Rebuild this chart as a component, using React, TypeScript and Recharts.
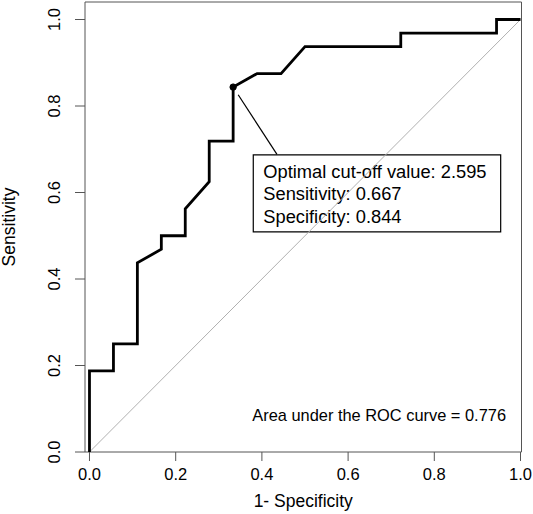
import React from 'react'
import { ComposedChart, Line, XAxis, YAxis, ReferenceLine, ReferenceArea, ReferenceDot } from 'recharts'

// ROC curve points (1 - specificity, sensitivity), 18 negatives / 32 positives
const fpr = [0, 0, 0.0556, 0.0556, 0.1111, 0.1111, 0.1667, 0.1667, 0.2222, 0.2222, 0.2778, 0.2778, 0.3333, 0.3333, 0.3889, 0.4444, 0.5, 0.7222, 0.7222, 0.9444, 0.9444, 1]
const tpr = [0, 0.1875, 0.1875, 0.25, 0.25, 0.4375, 0.46875, 0.5, 0.5, 0.5625, 0.625, 0.71875, 0.71875, 0.84375, 0.875, 0.875, 0.9375, 0.9375, 0.96875, 0.96875, 1, 1]

const xTicks = [0, 0.2, 0.4, 0.6, 0.8, 1]
const yTicks = [0, 0.2, 0.4, 0.6, 0.8, 1]

// optimal cut-off point and annotation
const optPoint = { x: 0.3333, y: 0.84375 }
const optLines = ['Optimal cut-off value: 2.595', 'Sensitivity: 0.667', 'Specificity: 0.844']
const aucText = 'Area under the ROC curve = 0.776'

const data = fpr.map((x, i) => ({ fpr: x, tpr: tpr[i] }))

const X_MIN = -0.0104
const X_MAX = 1.0023
const Y_MAX = 1.0405
const FONT = '"Liberation Sans", Arial, Helvetica, sans-serif'
const AXIS_COLOR = '#555'

const XTick = ({ x, y, payload }: any) => (
  <text x={x} y={y} dy={17} textAnchor='middle' fontSize={16.5} fontFamily={FONT} fill='#000'>
    {payload.value.toFixed(1)}
  </text>
)

const YTick = ({ x, y, payload }: any) => (
  <text transform={`translate(${x - 13},${y}) rotate(-90)`} textAnchor='middle' fontSize={16.5} fontFamily={FONT} fill='#000'>
    {payload.value.toFixed(1)}
  </text>
)

const BoxText = ({ viewBox }: any) => {
  const { x, y } = viewBox
  return (
    <g>
      {optLines.map((t, i) => (
        <text key={i} x={x + 10} y={y + 23.3 + i * 22.2} fontSize={18.3} fontFamily={FONT} fill='#000'>
          {t}
        </text>
      ))}
    </g>
  )
}

const AucLabel = ({ viewBox }: any) => (
  <text x={viewBox.x} y={viewBox.y} textAnchor='middle' fontSize={16.4} fontFamily={FONT} fill='#000'>
    {aucText}
  </text>
)

const XTitle = ({ viewBox }: any) => (
  <text x={viewBox.x + viewBox.width / 2} y={viewBox.y + 55} textAnchor='middle' fontSize={17.5} fontFamily={FONT} fill='#000'>
    1- Specificity
  </text>
)

const YTitle = ({ viewBox }: any) => (
  <text transform={`translate(15,${viewBox.y + viewBox.height / 2}) rotate(-90)`} textAnchor='middle' fontSize={17.5} fontFamily={FONT} fill='#000'>
    Sensitivity
  </text>
)

export default function App() {
  return (
    <div style={{ position: 'absolute', left: 0, top: 0, width: 533, height: 514, background: '#fff' }}>
      <ComposedChart width={533} height={514} data={data} margin={{ top: 2, right: 11.5, bottom: 0, left: 0 }}>
        <XAxis
          dataKey='fpr'
          type='number'
          domain={[X_MIN, X_MAX]}
          ticks={xTicks}
          allowDataOverflow
          height={62}
          axisLine={false}
          tickSize={9}
          tickLine={{ stroke: AXIS_COLOR }}
          tick={<XTick />}
          label={<XTitle />}
        />
        <YAxis
          type='number'
          domain={[0, Y_MAX]}
          ticks={yTicks}
          allowDataOverflow
          width={85}
          axisLine={false}
          tickSize={10}
          tickLine={{ stroke: AXIS_COLOR }}
          tick={<YTick />}
          label={<YTitle />}
        />
        <ReferenceArea x1={X_MIN} x2={X_MAX} y1={0} y2={Y_MAX} fill='none' fillOpacity={0} stroke={AXIS_COLOR} strokeWidth={1} ifOverflow='visible' />
        <ReferenceLine segment={[{ x: 0, y: 0 }, { x: 1, y: 1 }]} stroke='#b0b0b0' strokeWidth={1} />
        <ReferenceLine segment={[{ x: 0.345, y: 0.826 }, { x: 0.435, y: 0.688 }]} stroke='#000' strokeWidth={1.2} />
        <ReferenceArea x1={0.38} x2={0.954} y1={0.509} y2={0.687} fill='none' fillOpacity={0} stroke='#000' strokeWidth={1.2} label={<BoxText />} />
        <ReferenceDot x={0.672} y={0.0717} r={0} fill='none' stroke='none' label={<AucLabel />} />
        <Line dataKey='tpr' type='linear' stroke='#000' strokeWidth={2.8} dot={false} isAnimationActive={false} />
        <ReferenceDot x={optPoint.x} y={optPoint.y} r={3.2} fill='#000' stroke='#000' />
      </ComposedChart>
    </div>
  )
}
